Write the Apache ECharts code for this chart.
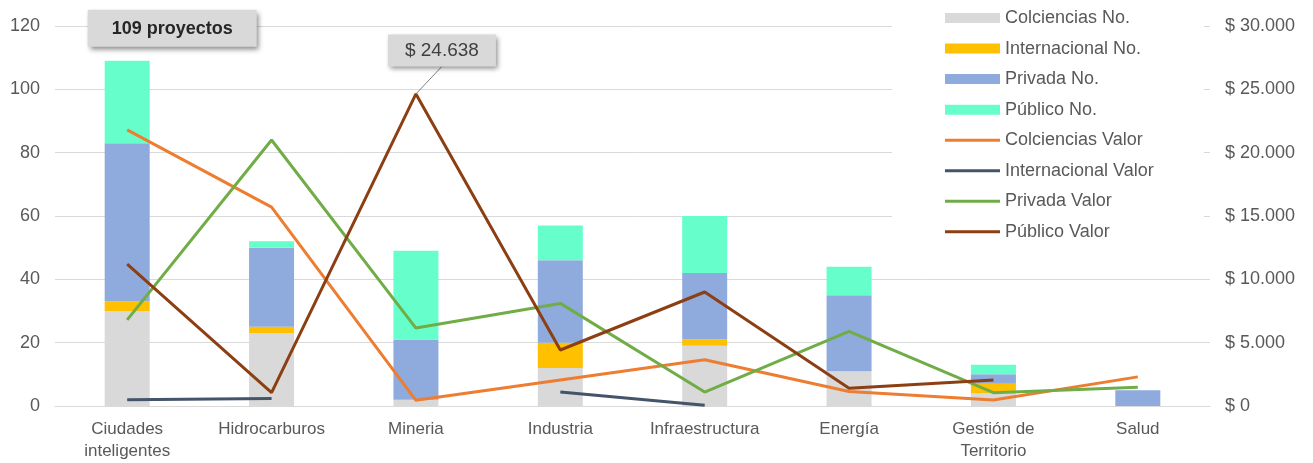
<!DOCTYPE html>
<html>
<head>
<meta charset="utf-8">
<script src="https://cdn.jsdelivr.net/npm/echarts@6/dist/echarts.min.js"></script>
<style>
  html, body { margin: 0; padding: 0; background: #ffffff; }
  #chart { width: 1313px; height: 463px; }
</style>
</head>
<body>
<div id="chart"></div>
<script>
// ---- Data ----
const categories = ['Ciudades\ninteligentes', 'Hidrocarburos', 'Mineria', 'Industria', 'Infraestructura', 'Energía', 'Gestión de\nTerritorio', 'Salud'];
const colcienciasNo   = [30, 23, 2, 12, 19, 11, 4, 0];
const internacionalNo = [3, 2, 0, 8, 2, 0, 3, 0];
const privadaNo       = [50, 25, 19, 26, 21, 24, 3, 5];
const publicoNo       = [26, 2, 28, 11, 18, 9, 3, 0];
const colcienciasValor   = [21800, 15700, 450, 2050, 3650, 1150, 480, 2300];
const internacionalValor = [500, 600, null, 1100, 50, null, null, null];
const privadaValor       = [6800, 21000, 6150, 8100, 1100, 5900, 1050, 1480];
const publicoValor       = [11200, 1050, 24638, 4420, 9000, 1400, 2050, null];
const leftAxisMax = 120, leftAxisStep = 20;
const rightAxisMax = 30000, rightAxisStep = 5000;
const seriesNames = ['Colciencias No.', 'Internacional No.', 'Privada No.', 'Público No.',
                     'Colciencias Valor', 'Internacional Valor', 'Privada Valor', 'Público Valor'];

// ---- Helpers ----
const FONT = '"Liberation Sans", Arial, sans-serif';
const TXT = '#595959';
function fmtMoney(v) {
  const s = Math.round(v).toString().replace(/\B(?=(\d{3})+(?!\d))/g, '.');
  return '$ ' + s;
}
const totals = categories.map((_, i) => colcienciasNo[i] + internacionalNo[i] + privadaNo[i] + publicoNo[i]);
const peakIdx = publicoValor.indexOf(Math.max(...publicoValor.filter(v => v != null)));

const boxStyle = {
  backgroundColor: '#d9d9d9',
  shadowColor: 'rgba(0,0,0,0.45)',
  shadowBlur: 5,
  shadowOffsetX: 2,
  shadowOffsetY: 3,
  fontFamily: FONT
};

const chart = echarts.init(document.getElementById('chart'), null, { renderer: 'canvas' });

const barSeries = (name, data, color) => ({
  name, type: 'bar', stack: 'no', yAxisIndex: 0, barWidth: 45,
  itemStyle: { color }, data, z: 2
});
const lineSeries = (name, data, color) => ({
  name, type: 'line', yAxisIndex: 1, symbol: 'none',
  connectNulls: false, lineStyle: { color, width: 3 }, itemStyle: { color },
  data, z: 3
});

const pubNoSeries = barSeries('Público No.', publicoNo.map((v, i) => i === 0 ? {
  value: v,
  label: Object.assign({
    show: true, position: 'top', distance: 5, offset: [45, -9],
    formatter: totals[0] + ' proyectos',
    color: '#262626', fontSize: 18, fontWeight: 600,
    padding: [10, 24, 9, 24]
  }, boxStyle)
} : v), '#66ffcc');

const pubValSeries = lineSeries('Público Valor', publicoValor.map((v, i) => i === peakIdx ? {
  value: v,
  symbol: 'circle', symbolSize: 1,
  label: Object.assign({
    show: true, position: 'top', distance: 5,
    formatter: fmtMoney(v),
    color: '#404040', fontSize: 19,
    padding: [7, 17, 6, 17]
  }, boxStyle)
} : v), '#8c3f12');
pubValSeries.labelLine = { show: true, lineStyle: { color: '#7f7f7f', width: 1 } };
pubValSeries.labelLayout = function (p) {
  if (p.dataIndex === peakIdx) return { dx: 26, dy: -22 };
  return {};
};

const lineIcon = 'path://M0,0H55V3H0Z';

const option = {
  backgroundColor: '#ffffff',
  animation: false,
  textStyle: { fontFamily: FONT },
  grid: { left: 55, right: 103, top: 26, bottom: 57, containLabel: false },
  legend: {
    orient: 'vertical', left: 892, top: 0,
    padding: [9, 50, 8, 53],
    backgroundColor: '#ffffff',
    itemWidth: 55, itemHeight: 10, itemGap: 12.55,
    symbolKeepAspect: true,
    textStyle: { color: TXT, fontSize: 18, fontFamily: FONT },
    data: seriesNames.map((n, i) => ({ name: n, icon: i < 4 ? 'rect' : lineIcon }))
  },
  xAxis: {
    type: 'category', data: categories,
    axisLine: { lineStyle: { color: '#d9d9d9', width: 1 } },
    axisTick: { show: false },
    axisLabel: { color: TXT, fontSize: 17, fontFamily: FONT, margin: 12, lineHeight: 22, interval: 0 }
  },
  yAxis: [
    {
      type: 'value', min: 0, max: leftAxisMax, interval: leftAxisStep,
      axisLine: { show: false }, axisTick: { show: false },
      splitLine: { lineStyle: { color: '#d9d9d9', width: 1 } },
      axisLabel: { color: TXT, fontSize: 18, fontFamily: FONT, margin: 15 }
    },
    {
      type: 'value', min: 0, max: rightAxisMax, interval: rightAxisStep,
      axisLine: { show: false }, axisTick: { show: false },
      splitLine: { show: false },
      axisLabel: { color: TXT, fontSize: 18, fontFamily: FONT, margin: 15, formatter: fmtMoney }
    }
  ],
  series: [
    barSeries('Colciencias No.', colcienciasNo, '#d9d9d9'),
    barSeries('Internacional No.', internacionalNo, '#ffc000'),
    barSeries('Privada No.', privadaNo, '#8faadc'),
    pubNoSeries,
    lineSeries('Colciencias Valor', colcienciasValor, '#ed7d31'),
    lineSeries('Internacional Valor', internacionalValor, '#44546a'),
    lineSeries('Privada Valor', privadaValor, '#70ad47'),
    pubValSeries
  ]
};
chart.setOption(option);
</script>
</body>
</html>
